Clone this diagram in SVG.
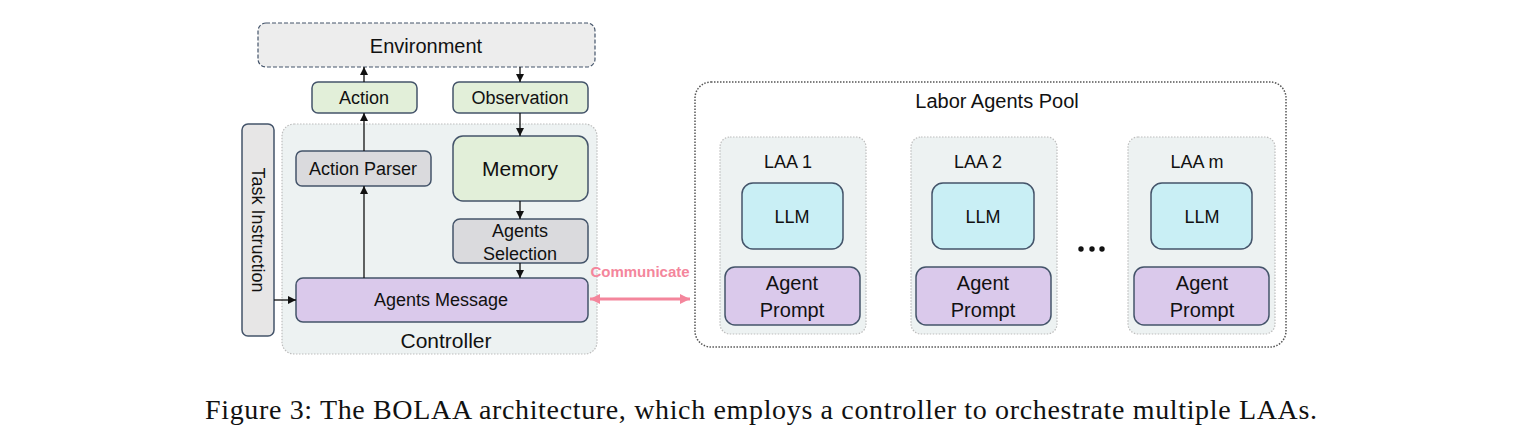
<svg xmlns="http://www.w3.org/2000/svg" width="1534" height="442" viewBox="0 0 1534 442">
<style>
text{font-family:"Liberation Sans",Arial,sans-serif;fill:#111;text-anchor:middle}
.box{stroke:#44546a;stroke-width:1.5}
.green{fill:#e2efd9}
.gray{fill:#dadadd}
.purple{fill:#dac9eb}
.cyan{fill:#c9eff5}
.cont{fill:#edf2f2;stroke:#bdbdbd;stroke-width:1.2;stroke-dasharray:1.5 1.5}
.conn{stroke:#111;stroke-width:1.3;fill:none;marker-end:url(#ah)}
.t18{font-size:18px}
.t20{font-size:20px}
</style>
<defs>
<marker id="ah" markerUnits="userSpaceOnUse" markerWidth="9" markerHeight="9" refX="8" refY="4" orient="auto"><path d="M0,0 L8,4 L0,8 z" fill="#111"/></marker>
<marker id="ph" markerUnits="userSpaceOnUse" markerWidth="12" markerHeight="12" refX="10" refY="5" orient="auto-start-reverse"><path d="M0,0 L10,5 L0,10 z" fill="#f4869c"/></marker>
</defs>
<rect width="1534" height="442" fill="#fff"/>

<g id="environment">
<rect x="258" y="23" width="337" height="44" rx="8" fill="#ededed" stroke="#44546a" stroke-width="1.2" stroke-dasharray="4 2"/>
<text x="426" y="53" class="t20">Environment</text>
</g>
<g id="action">
<rect x="312" y="82" width="105" height="31" rx="6" class="box green"/>
<text x="364" y="104" class="t18">Action</text>
</g>
<g id="observation">
<rect x="453" y="82" width="135" height="31" rx="6" class="box green"/>
<text x="520" y="104" class="t18">Observation</text>
</g>
<g id="controller">
<rect x="282" y="124" width="315" height="230" rx="12" class="cont"/>
<text x="446" y="348" style="font-size:21px">Controller</text>
</g>
<g id="task-instruction">
<rect x="242" y="124" width="32" height="212" rx="6" fill="#e7e6e6" stroke="#44546a" stroke-width="1.5"/>
<text x="0" y="0" class="t18" transform="translate(258 230) rotate(90)" dominant-baseline="central">Task Instruction</text>
</g>
<g id="action-parser">
<rect x="296" y="151" width="135" height="35" rx="6" class="box gray"/>
<text x="363" y="175" class="t18">Action Parser</text>
</g>
<g id="memory">
<rect x="453" y="136" width="135" height="65" rx="10" class="box green"/>
<text x="520" y="176" style="font-size:21px">Memory</text>
</g>
<g id="agents-selection">
<rect x="453" y="219" width="135" height="44" rx="7" class="box gray"/>
<text x="520" y="237" class="t18">Agents</text>
<text x="520" y="260" class="t18">Selection</text>
</g>
<g id="agents-message">
<rect x="296" y="278" width="292" height="44" rx="7" class="box purple"/>
<text x="441" y="306" class="t18">Agents Message</text>
</g>

<g id="labor-agents-pool">
<rect x="695" y="82" width="591" height="265" rx="16" fill="#fff" stroke="#555" stroke-width="1.5" stroke-dasharray="1.5 1.5"/>
<text x="997" y="108" class="t20">Labor Agents Pool</text>
</g>
<g id="laa1">
<rect x="720" y="137" width="146" height="197" rx="10" class="cont"/>
<text x="788" y="168" class="t18">LAA 1</text>
<rect x="742" y="183" width="101" height="66" rx="11" class="box cyan"/>
<text x="792" y="223" class="t18">LLM</text>
<rect x="725" y="267" width="135" height="58" rx="10" class="box purple"/>
<text x="792" y="290" class="t20">Agent</text>
<text x="792" y="317" class="t20">Prompt</text>
</g>
<g id="laa2">
<rect x="911" y="137" width="146" height="197" rx="10" class="cont"/>
<text x="978" y="168" class="t18">LAA 2</text>
<rect x="932" y="183" width="102" height="66" rx="11" class="box cyan"/>
<text x="983" y="223" class="t18">LLM</text>
<rect x="916" y="267" width="135" height="58" rx="10" class="box purple"/>
<text x="983" y="290" class="t20">Agent</text>
<text x="983" y="317" class="t20">Prompt</text>
</g>
<g id="ellipsis">
<circle cx="1081" cy="249" r="2.7" fill="#111"/>
<circle cx="1092" cy="249" r="2.7" fill="#111"/>
<circle cx="1102" cy="249" r="2.7" fill="#111"/>
</g>
<g id="laam">
<rect x="1128" y="137" width="147" height="197" rx="10" class="cont"/>
<text x="1197" y="168" class="t18">LAA m</text>
<rect x="1151" y="183" width="101" height="66" rx="11" class="box cyan"/>
<text x="1202" y="223" class="t18">LLM</text>
<rect x="1134" y="267" width="135" height="58" rx="10" class="box purple"/>
<text x="1202" y="290" class="t20">Agent</text>
<text x="1202" y="317" class="t20">Prompt</text>
</g>

<g id="connectors">
<path class="conn" d="M364,82 L364,67"/>
<path class="conn" d="M520,67 L520,82"/>
<path class="conn" d="M364,151 L364,113"/>
<path class="conn" d="M364,278 L364,186"/>
<path class="conn" d="M520,113 L520,136"/>
<path class="conn" d="M520,201 L520,219"/>
<path class="conn" d="M520,263 L520,278"/>
<path class="conn" d="M274,300 L296,300"/>
<path d="M590,299 L690,299" stroke="#f4869c" stroke-width="3" fill="none" marker-start="url(#ph)" marker-end="url(#ph)"/>
<text x="640" y="277" style="font-size:15px;font-weight:bold;fill:#f4869c">Communicate</text>
</g>

<text x="205" y="419" style="font-family:'Liberation Serif','Times New Roman',serif;font-size:28px;text-anchor:start" textLength="1112" lengthAdjust="spacing">Figure 3: The BOLAA architecture, which employs a controller to orchestrate multiple LAAs.</text>
</svg>
